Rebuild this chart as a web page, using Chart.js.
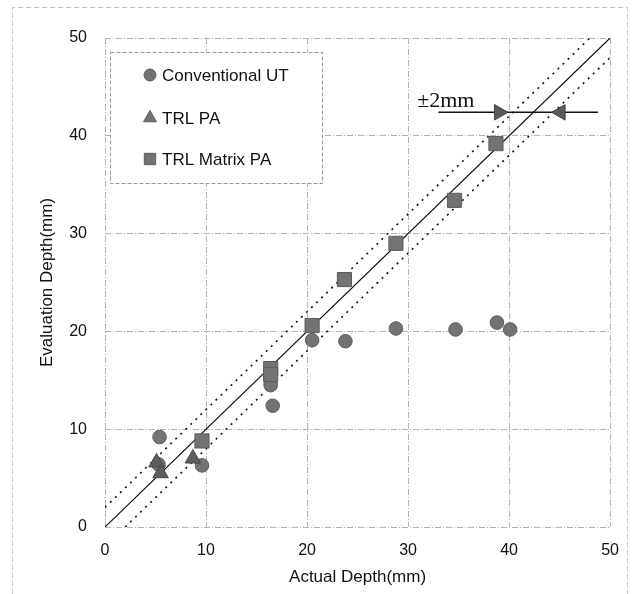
<!DOCTYPE html>
<html>
<head>
<meta charset="utf-8">
<script src="https://cdn.jsdelivr.net/npm/chart.js@4.4.1/dist/chart.umd.min.js"></script>
<style>
  html, body { margin: 0; padding: 0; background: #fff; }
  canvas { display: block; }
</style>
</head>
<body>
<canvas id="depthChart" width="633" height="594"></canvas>
<script>
// measured points
const utX = [5.4, 5.3, 9.6, 16.4, 16.4, 16.6, 20.5, 23.8, 28.8, 34.7, 38.8, 40.1];
const utY = [9.2, 6.4, 6.3, 14.9, 14.5, 12.4, 19.1, 19.0, 20.3, 20.2, 20.9, 20.2];

const paX = [5.1, 5.5, 8.7];
const paY = [6.6, 5.5, 7.0];

const matX = [9.6, 16.4, 16.4, 20.5, 23.7, 28.8, 34.6, 38.7];
const matY = [8.8, 16.2, 15.6, 20.6, 25.3, 29.0, 33.4, 39.2];

// reference lines (y = x, y = x +/- 2)
const refX = [0, 50];
const refY = [0, 50];
const upperX = [0, 48];
const upperY = [2, 50];
const lowerX = [2, 50];
const lowerY = [0, 48];

// +/-2mm arrow
const arrowX = [33, 48.8];
const arrowY = [42.4, 42.4];
const headX = [39.0, 45.1];
const headY = [42.4, 42.4];
const headRot = [90, -90];
const bandLabel = '±2mm';
const bandLabelX = 30.9;
const bandLabelY = 43.5;

const tickValues = [0, 10, 20, 30, 40, 50];

const toPts = (xs, ys) => xs.map((x, i) => ({x: x, y: ys[i]}));

const markFill = '#737373';
const markEdge = '#5c5c5c';

const frame = {
    id: 'frame',
    beforeDraw(chart) {
        const ctx = chart.ctx;
        ctx.save();
        ctx.strokeStyle = '#c8c8c8';
        ctx.lineWidth = 1;
        ctx.setLineDash([5, 3]);
        ctx.beginPath();
        ctx.moveTo(12.5, 594);
        ctx.lineTo(12.5, 7.5);
        ctx.lineTo(627.5, 7.5);
        ctx.lineTo(627.5, 594);
        ctx.stroke();
        ctx.restore();
    }
};

const boxLegend = {
    id: 'boxLegend',
    afterDatasetsDraw(chart) {
        const ctx = chart.ctx;
        const ds = chart.data.datasets;
        ctx.save();
        ctx.fillStyle = '#fff';
        ctx.fillRect(110, 52, 212, 131);
        ctx.strokeStyle = '#999';
        ctx.lineWidth = 1;
        ctx.setLineDash([4, 2]);
        ctx.strokeRect(110.5, 52.5, 212, 131);
        ctx.setLineDash([]);
        const rows = [
            {d: ds[2], y: 75, r: 6},
            {d: ds[1], y: 118, r: 7.5},
            {d: ds[0], y: 159, r: 8}
        ];
        ctx.font = '17px "Liberation Sans", Arial, sans-serif';
        ctx.textBaseline = 'middle';
        rows.forEach(row => {
            ctx.fillStyle = markFill;
            ctx.strokeStyle = markEdge;
            ctx.lineWidth = 1;
            Chart.helpers.drawPoint(ctx, {pointStyle: row.d.pointStyle, radius: row.r, rotation: 0, borderWidth: 1}, 150, row.y);
            ctx.fillStyle = '#111';
            ctx.fillText(row.d.label, 162, row.y + 1);
        });
        // band label
        const sx = chart.scales.x, sy = chart.scales.y;
        ctx.font = '22px "Liberation Serif", "Times New Roman", serif';
        ctx.fillStyle = '#111';
        ctx.textAlign = 'left';
        ctx.fillText(bandLabel, sx.getPixelForValue(bandLabelX), sy.getPixelForValue(bandLabelY));
        ctx.restore();
    }
};

const config = {
    type: 'scatter',
    data: {
        datasets: [
            {
                label: 'TRL Matrix PA',
                data: toPts(matX, matY),
                pointStyle: 'rect',
                pointRadius: 10,
                backgroundColor: markFill,
                borderColor: markEdge,
                borderWidth: 1
            },
            {
                label: 'TRL PA',
                data: toPts(paX, paY),
                pointStyle: 'triangle',
                pointRadius: 9,
                backgroundColor: '#5e5e5e',
                borderColor: '#4a4a4a',
                borderWidth: 1
            },
            {
                label: 'Conventional UT',
                data: toPts(utX, utY),
                pointStyle: 'circle',
                pointRadius: 6.8,
                backgroundColor: markFill,
                borderColor: markEdge,
                borderWidth: 1
            },
            {
                label: 'arrow heads',
                data: toPts(headX, headY),
                pointStyle: 'triangle',
                pointRadius: 9,
                pointRotation: c => headRot[c.dataIndex],
                backgroundColor: '#5a5a5a',
                borderColor: '#444',
                borderWidth: 1
            },
            {
                label: 'arrow',
                data: toPts(arrowX, arrowY),
                showLine: true,
                pointRadius: 0,
                borderColor: '#111',
                borderWidth: 1.5
            },
            {
                label: 'y = x',
                data: toPts(refX, refY),
                showLine: true,
                pointRadius: 0,
                borderColor: '#111',
                borderWidth: 1.2
            },
            {
                label: '+2mm',
                data: toPts(upperX, upperY),
                showLine: true,
                pointRadius: 0,
                borderColor: '#111',
                borderWidth: 1.6,
                borderDash: [2, 5]
            },
            {
                label: '-2mm',
                data: toPts(lowerX, lowerY),
                showLine: true,
                pointRadius: 0,
                borderColor: '#111',
                borderWidth: 1.6,
                borderDash: [2, 5]
            }
        ]
    },
    options: {
        responsive: false,
        animation: false,
        devicePixelRatio: 1,
        layout: {
            padding: {top: 38, right: 22, left: 0, bottom: 0}
        },
        plugins: {
            legend: {display: false},
            tooltip: {enabled: false}
        },
        scales: {
            x: {
                type: 'linear',
                min: 0,
                max: 50,
                afterBuildTicks: s => { s.ticks = tickValues.map(v => ({value: v})); },
                afterFit: s => { s.height = 67; },
                ticks: {
                    color: '#111',
                    padding: 14,
                    font: {family: '"Liberation Sans", Arial, sans-serif', size: 16}
                },
                grid: {color: '#b3b3b3', drawTicks: false},
                border: {display: false, dash: [6, 2, 1, 2]},
                title: {
                    display: true,
                    text: 'Actual Depth(mm)',
                    color: '#111',
                    padding: {top: 0, bottom: 6},
                    font: {family: '"Liberation Sans", Arial, sans-serif', size: 17}
                }
            },
            y: {
                type: 'linear',
                min: 0,
                max: 50,
                afterBuildTicks: s => { s.ticks = tickValues.map(v => ({value: v})); },
                afterFit: s => { s.width = 105; },
                ticks: {
                    color: '#111',
                    padding: 18,
                    font: {family: '"Liberation Sans", Arial, sans-serif', size: 16}
                },
                grid: {color: '#b3b3b3', drawTicks: false},
                border: {display: false, dash: [6, 2, 1, 2]},
                title: {
                    display: true,
                    text: 'Evaluation Depth(mm)',
                    color: '#111',
                    padding: {top: 37, bottom: 0},
                    font: {family: '"Liberation Sans", Arial, sans-serif', size: 17}
                }
            }
        }
    },
    plugins: [frame, boxLegend]
};

const depthChart = new Chart(document.getElementById('depthChart'), config);
</script>
</body>
</html>
